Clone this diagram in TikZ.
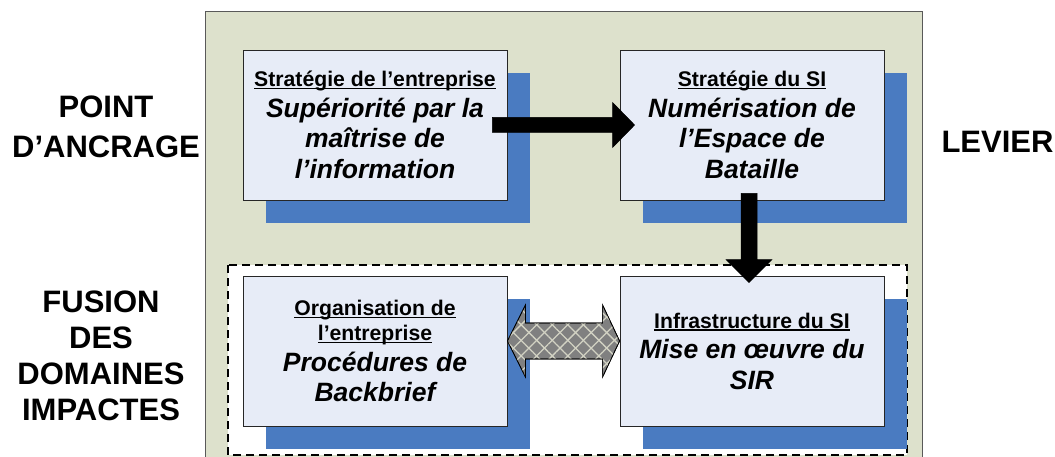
\documentclass[tikz,border=0pt]{standalone}
\usepackage{fontspec}
\setmainfont{Liberation Sans}
\usetikzlibrary{calc,shadows,patterns.meta}
\definecolor{panel}{RGB}{221,225,204}
\definecolor{boxfill}{RGB}{231,236,247}
\definecolor{shadowblue}{RGB}{74,123,193}
\definecolor{arrowgray}{RGB}{128,128,128}
\definecolor{hatch}{RGB}{210,210,195}
\newcommand\boxhead[1]{{\fontsize{21.2}{25}\selectfont\upshape\setbox0\hbox{#1}\rlap{\rule[-2.6pt]{\wd0}{1.3pt}}\box0}}
\begin{document}
\begin{tikzpicture}[x=1pt,y=-1pt,
  box/.style={draw=black!85, line width=0.8pt, fill=boxfill,
    minimum width=264pt, minimum height=150pt, align=center, inner sep=0pt,
    font=\fontsize{26.5}{30.5}\selectfont\bfseries\itshape,
    drop shadow={shadow xshift=22.5pt, shadow yshift=-23pt, fill=shadowblue, opacity=1}},
  sidelabel/.style={align=center, font=\fontsize{31}{36}\selectfont\bfseries, inner sep=0pt},
  bigarrow/.style={fill=black, draw=black, line width=0.5pt},
  dblarrow/.style={fill=arrowgray, draw=black, line width=0.7pt,
    postaction={pattern={Lines[angle=45,distance=11pt,line width=1.3pt]}, pattern color=hatch},
    postaction={pattern={Lines[angle=-45,distance=11pt,line width=1.3pt]}, pattern color=hatch},
    postaction={draw=black, line width=0.7pt}}
]
\useasboundingbox (0,0) rectangle (1055,457);
\clip (0,0) rectangle (1055,457);
% panel
\draw[draw=black!65, line width=1pt, fill=panel] (205,12) rectangle (922,470);
% dashed zone
\draw[fill=white, draw=black, line width=2pt, dash pattern=on 8pt off 5pt] (228,265) rectangle (907,455);
% boxes
\node[box] (b1) at (375,125) {\boxhead{Stratégie de l’entreprise}\\Supériorité par la\\maîtrise de\\l’information};
\node[box] (b2) at (752,125) {\boxhead{Stratégie du SI}\\Numérisation de\\l’Espace de\\Bataille};
\node[box] (b3) at (375,351) {\boxhead{Organisation de}\\[-5.5pt]\boxhead{l’entreprise}\\Procédures de\\Backbrief};
\node[box] (b4) at (752,351) {\boxhead{Infrastructure du SI}\\Mise en œuvre du\\SIR};
% side labels
\node[sidelabel, font=\fontsize{31}{40}\selectfont\bfseries] (l1) at (106,127) {POINT\\D’ANCRAGE};
\node[sidelabel] (l2) at (997.5,141.5) {LEVIER};
\node[sidelabel] (l3) at (101,356) {FUSION\\DES\\DOMAINES\\IMPACTES};
% right arrow b1 -> b2
\draw[bigarrow] ($(b1.east)+(-15,-7.5)$) -- ($(b2.west)+(-7,-7.5)$) -- ($(b2.west)+(-7,-22.5)$)
  -- ($(b2.west)+(15,0)$) -- ($(b2.west)+(-7,22.5)$) -- ($(b2.west)+(-7,7.5)$)
  -- ($(b1.east)+(-15,7.5)$) -- cycle;
% down arrow b2 -> b4
\draw[bigarrow] ($(b2.south)+(-11,-7)$) -- ($(b4.north)+(-11,-16)$) -- ($(b4.north)+(-26,-16)$)
  -- ($(b4.north)+(-3,7)$) -- ($(b4.north)+(20,-16)$) -- ($(b4.north)+(5,-16)$)
  -- ($(b2.south)+(5,-7)$) -- cycle;
% double arrow b3 <-> b4
\path[dblarrow] ($(b3.east)+(0,-10)$) -- ($(b3.east)+(18,-46)$) -- ($(b3.east)+(18,-28)$)
  -- ($(b4.west)+(-17,-28)$) -- ($(b4.west)+(-17,-46)$) -- ($(b4.west)+(0,-10)$)
  -- ($(b4.west)+(-17,26)$) -- ($(b4.west)+(-17,8)$) -- ($(b3.east)+(18,8)$)
  -- ($(b3.east)+(18,26)$) -- cycle;
\end{tikzpicture}
\end{document}
